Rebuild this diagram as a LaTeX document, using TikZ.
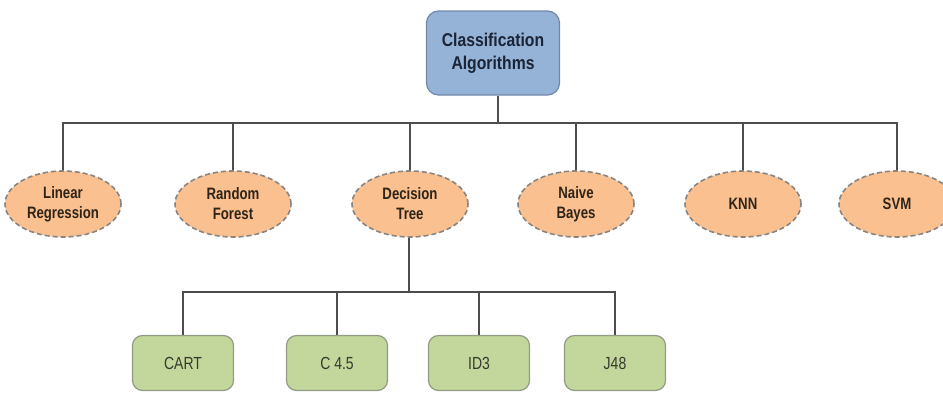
\documentclass[tikz,border=0pt]{standalone}
\usepackage{fontspec}
\setmainfont{Liberation Sans}
\newfontfamily\narrowfont[FakeStretch=0.80]{Liberation Sans}
\newfontfamily\rootfont[FakeStretch=0.85]{Liberation Sans}
\usetikzlibrary{shapes.geometric}

\definecolor{rootfill}{HTML}{95B3D7}
\definecolor{rootdraw}{HTML}{7088A8}
\definecolor{roottext}{HTML}{1B2436}
\definecolor{algfill}{HTML}{FAC090}
\definecolor{algdraw}{HTML}{858585}
\definecolor{algtext}{HTML}{2E2418}
\definecolor{leaffill}{HTML}{C3D69B}
\definecolor{leafdraw}{HTML}{929C84}
\definecolor{leaftext}{HTML}{363B2C}
\definecolor{wire}{HTML}{4D4D4D}

\tikzset{
  rootbox/.style={draw=rootdraw, line width=1.2pt, fill=rootfill, rounded corners=12pt,
    minimum width=133pt, minimum height=84pt, align=center,
    font=\rootfont\fontsize{18.5}{23}\selectfont\bfseries, text=roottext},
  algnode/.style={ellipse, draw=algdraw, line width=1.6pt, dash pattern=on 5pt off 3pt,
    fill=algfill, minimum width=116pt, minimum height=66pt, inner sep=0pt, align=center,
    font=\narrowfont\fontsize{16.5}{20}\selectfont\bfseries, text=algtext},
  leafbox/.style={draw=leafdraw, line width=1.2pt, fill=leaffill, rounded corners=10pt,
    minimum width=101pt, minimum height=55pt, align=center,
    font=\narrowfont\fontsize{17.5}{20}\selectfont, text=leaftext},
  wireline/.style={draw=wire, line width=2.6pt}
}

\begin{document}
\begin{tikzpicture}[x=1pt, y=-1pt]
  \useasboundingbox (0,0) rectangle (943,392);

  % root
  \node[rootbox] (root) at (493,53) {Classification\\Algorithms};

  % algorithm families
  \node[algnode] (lr)  at (63,204)  {Linear\\Regression};
  \node[algnode] (rf)  at (233,204) {Random\\Forest};
  \node[algnode] (dt)  at (410,204) {Decision\\Tree};
  \node[algnode] (nb)  at (576,204) {Naive\\Bayes};
  \node[algnode] (knn) at (743,204) {KNN};
  \node[algnode] (svm) at (897,204) {SVM};

  % decision tree variants
  \node[leafbox] (cart) at (183,363) {CART};
  \node[leafbox] (c45)  at (337,363) {C 4.5};
  \node[leafbox] (id3)  at (479,363) {ID3};
  \node[leafbox] (j48)  at (615,363) {J48};

  % junction points of the connector buses
  \coordinate (bus)  at (498,123);
  \coordinate (bus2) at (409,292);

  % connectors: root to families
  \draw[wireline] (root.south -| bus) -- (bus);
  \foreach \n in {lr,rf,dt,nb,knn,svm}
    \draw[wireline, line join=miter] (\n.north) |- (bus);

  % connectors: decision tree to variants
  \draw[wireline] (dt.south -| bus2) -- (bus2);
  \foreach \n in {cart,c45,id3,j48}
    \draw[wireline, line join=miter] (\n.north) |- (bus2);
\end{tikzpicture}
\end{document}
